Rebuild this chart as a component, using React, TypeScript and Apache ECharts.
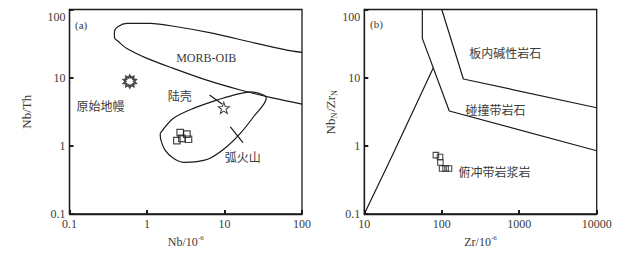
import React, { useEffect, useRef } from "react";
import * as echarts from "echarts";

// ---- Panel (a): Nb vs Nb/Th ----
const morbOibBoundary: [number, number][] = [
  [100, 23.5], [64, 25.4], [23.7, 32.5], [7.2, 44.6], [2.43, 55.8], [1.1, 62.5],
  [0.55, 62.5], [0.43, 57], [0.38, 47], [0.38, 39], [0.43, 33.6], [0.55, 26.8],
  [1.0, 19.2], [2.19, 13.7], [5.9, 9.2], [16, 6.6], [43, 5.0], [100, 4.1],
];
const arcBoundary: [number, number][] = [
  [1.48, 1.52], [2.19, 2.53], [3.98, 3.55], [8.0, 4.7], [13.1, 5.56], [21.5, 6.2],
  [31.9, 5.56], [34.6, 5.0], [23.7, 2.67], [16, 1.52], [10.7, 0.97], [6.5, 0.656],
  [4.4, 0.585], [2.95, 0.573], [2.19, 0.656], [1.71, 0.867], [1.51, 1.22], [1.48, 1.52],
];
const crustPointer: [number, number][] = [[6.4, 5.56], [9.3, 4.1]];
const arcPointer: [number, number][] = [[11.9, 1.9], [17.3, 1.11]];
const primitiveMantle: [number, number][] = [[0.6, 8.8]];
const continentalCrust: [number, number][] = [[9.8, 3.6]];
const samplesA: [number, number][] = [
  [2.68, 1.56], [3.27, 1.49], [2.43, 1.19], [2.82, 1.29], [3.43, 1.25],
];
const labelsA: [number, number, string][] = [
  [5.8, 19.4, "MORB-OIB"],
  [0.251, 3.7, "原始地幔"],
  [2.64, 5.2, "陆壳"],
  [17.2, 0.66, "弧火山"],
];

// ---- Panel (b): Zr vs NbN/ZrN ----
const boundaryA: [number, number][] = [[56.1, 100], [56.1, 37.7], [125, 3.24], [10000, 0.848]];
const boundaryB: [number, number][] = [[100, 100], [190, 9.56], [10000, 3.62]];
const boundaryC: [number, number][] = [[10, 0.1], [22.6, 0.69], [77.8, 14.0]];
const samplesB: [number, number][] = [
  [84, 0.73], [95, 0.686], [96, 0.57], [101, 0.465], [112, 0.465], [124, 0.465],
];
const labelsB: [number, number, string][] = [
  [658, 22.2, "板内碱性岩石"],
  [495, 3.24, "碰撞带岩石"],
  [481, 0.4, "俯冲带岩浆岩"],
];

const xTicksA = [0.1, 1, 10, 100];
const xTicksB = [10, 100, 1000, 10000];
const yTicks = [0.1, 1, 10, 100];

const FONT = "Liberation Serif, Noto Sans CJK SC, serif";
const INK = "#1a1a1a";
const TEXT = "#3a3a3a";

function starPath(points: number, outer: number, inner: number): string {
  const pts: string[] = [];
  for (let i = 0; i < points * 2; i++) {
    const r = i % 2 === 0 ? outer : inner;
    const a = (Math.PI * i) / points - Math.PI / 2;
    pts.push(`${(r * Math.cos(a) + outer).toFixed(2)} ${(r * Math.sin(a) + outer).toFixed(2)}`);
  }
  return "path://M" + pts.join(" L") + " Z";
}

export default function App() {
  const ref = useRef<HTMLDivElement>(null);
  useEffect(() => {
    if (!ref.current) return;
    const chart = echarts.init(ref.current, null, { renderer: "svg" });
    const fmt = (v: number) => String(Number(v.toPrecision(3)));
    const xAxisBase = (ticks: number[]) => ({
      type: "log" as const,
      logBase: 10,
      min: ticks[0],
      max: ticks[ticks.length - 1],
      nameLocation: "middle" as const,
      nameGap: 19,
      axisLine: { lineStyle: { color: INK, width: 1.3 } },
      axisTick: { inside: true, length: 4, lineStyle: { color: INK, width: 2 } },
      axisLabel: { color: TEXT, fontFamily: FONT, fontSize: 12, margin: 4, formatter: fmt },
      splitLine: { show: false },
      nameTextStyle: {
        color: TEXT, fontFamily: FONT, fontSize: 12,
        rich: { sup: { fontSize: 7, color: TEXT, fontFamily: FONT, padding: [0, 0, 7, 0] } },
      },
    });
    const yAxisBase = (gap: number) => ({
      type: "log" as const,
      logBase: 10,
      min: yTicks[0],
      max: yTicks[yTicks.length - 1],
      nameLocation: "middle" as const,
      nameGap: gap,
      axisLine: { lineStyle: { color: INK, width: 1.3 } },
      axisTick: { inside: true, length: 4, lineStyle: { color: INK, width: 2 } },
      axisLabel: {
        color: TEXT, fontFamily: FONT, fontSize: 12, margin: 4,
        formatter: (v: number) => (v >= 99 ? "{t|" + fmt(v) + "}" : fmt(v)),
        rich: { t: { padding: [14, 0, 0, 0], fontFamily: FONT, fontSize: 12, color: TEXT } },
      },
      splitLine: { show: false },
      nameTextStyle: {
        color: TEXT, fontFamily: FONT, fontSize: 13,
        rich: { sub: { fontSize: 8, color: TEXT, fontFamily: FONT, padding: [7, 1, 0, 0] } },
      },
    });
    const lineSeries = (data: [number, number][], idx: number, smooth: number | boolean = false) => ({
      type: "line" as const,
      xAxisIndex: idx,
      yAxisIndex: idx,
      data,
      showSymbol: false,
      symbol: "none",
      smooth,
      color: INK,
      lineStyle: { color: INK, width: 1.2 },
      silent: true,
      z: 2,
    });
    chart.setOption({
      animation: false,
      backgroundColor: "#fff",
      color: [INK],
      grid: [
        { left: 69.5, top: 9.5, width: 232.5, height: 204.5, show: true, borderColor: INK, borderWidth: 1.3, backgroundColor: "transparent" },
        { left: 364.3, top: 9.5, width: 232.4, height: 204.5, show: true, borderColor: INK, borderWidth: 1.3, backgroundColor: "transparent" },
      ],
      xAxis: [
        { ...xAxisBase(xTicksA), gridIndex: 0, name: "Nb/10{sup|-6}" },
        { ...xAxisBase(xTicksB), gridIndex: 1, name: "Zr/10{sup|-6}" },
      ],
      yAxis: [
        { ...yAxisBase(37), gridIndex: 0, name: "Nb/Th" },
        { ...yAxisBase(21), gridIndex: 1, name: "Nb{sub|N}/Zr{sub|N}" },
      ],
      series: [
        lineSeries(morbOibBoundary, 0, 0.3),
        lineSeries(arcBoundary, 0, 0.3),
        lineSeries(crustPointer, 0),
        lineSeries(arcPointer, 0),
        {
          type: "scatter",
          xAxisIndex: 0,
          yAxisIndex: 0,
          data: primitiveMantle,
          symbol: starPath(10, 10, 6.5),
          symbolSize: 12,
          itemStyle: { color: "#fff", borderColor: INK, borderWidth: 2 },
          z: 4,
        },
        {
          type: "scatter",
          xAxisIndex: 0,
          yAxisIndex: 0,
          data: continentalCrust,
          symbol: starPath(5, 10, 4.2),
          symbolSize: 11,
          itemStyle: { color: "#fff", borderColor: INK, borderWidth: 1.1 },
          z: 4,
        },
        {
          type: "scatter",
          xAxisIndex: 0,
          yAxisIndex: 0,
          data: samplesA,
          symbol: "rect",
          symbolSize: 6.5,
          itemStyle: { color: "transparent", borderColor: INK, borderWidth: 1.2 },
          z: 4,
        },
        lineSeries(boundaryA, 1),
        lineSeries(boundaryB, 1),
        lineSeries(boundaryC, 1),
        {
          type: "scatter",
          xAxisIndex: 1,
          yAxisIndex: 1,
          data: samplesB,
          symbol: "rect",
          symbolSize: 5.5,
          itemStyle: { color: "transparent", borderColor: INK, borderWidth: 1.1 },
          z: 4,
        },
      ],
    });
    const textEl = (gridIndex: number, d: [number, number, string]) => {
      const p = chart.convertToPixel({ gridIndex }, [d[0], d[1]]) as number[];
      return {
        type: "text",
        x: p[0],
        y: p[1],
        z: 10,
        style: {
          text: d[2],
          font: `12px ${FONT}`,
          fill: TEXT,
          align: "center",
          verticalAlign: "middle",
        },
      };
    };
    chart.setOption({
      graphic: [
        { type: "text", left: 75, top: 19, style: { text: "(a)", font: `11px ${FONT}`, fill: TEXT } },
        { type: "text", left: 370, top: 18, style: { text: "(b)", font: `11px ${FONT}`, fill: TEXT } },
        ...labelsA.map((d) => textEl(0, d)),
        ...labelsB.map((d) => textEl(1, d)),
      ],
    });
    return () => chart.dispose();
  }, []);
  return (
    <div
      ref={ref}
      style={{ position: "fixed", left: 0, top: 0, width: 629, height: 253, background: "#fff" }}
    />
  );
}
